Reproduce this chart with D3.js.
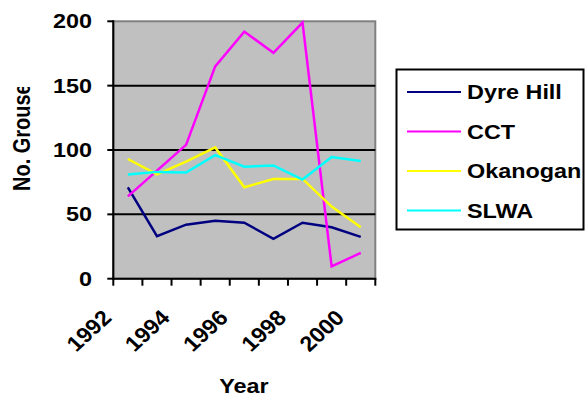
<!DOCTYPE html>
<html>
<head>
<meta charset="utf-8">
<script src="https://cdn.jsdelivr.net/npm/d3@7"></script>
<style>
  html, body { margin: 0; padding: 0; background: #fff; }
  text { font-family: "Liberation Sans", Arial, sans-serif; font-weight: bold; fill: #000; }
</style>
</head>
<body>
<svg id="chart" width="586" height="399"></svg>
<script>
const years = [1992, 1993, 1994, 1995, 1996, 1997, 1998, 1999, 2000];
const yearLabels = ["1992", "1994", "1996", "1998", "2000"];
const dyreHill = [71, 33, 42, 45, 43.5, 31, 43.5, 40, 32.5];
const cct = [64, 84, 104, 165, 192, 175.5, 199, 9.5, 20];
const okanogan = [93, 81, 91, 102, 71, 77.5, 77.5, 56, 40];
const slwa = [81, 83, 82.5, 96, 87, 88, 77, 94.5, 91.5];
const yTicks = [0, 50, 100, 150, 200];
const seriesNames = ["Dyre Hill", "CCT", "Okanogan", "SLWA"];
const seriesColors = ["#000080", "#FF00FF", "#FFFF00", "#00FFFF"];
const seriesData = [dyreHill, cct, okanogan, slwa];

const svg = d3.select("#chart");
const L = 113.3, R = 375.3, T = 21.3, B = 278.7;
const SX = 1.17;

const x = d3.scaleBand().domain(years).range([L, R]).padding(0);
const y = d3.scaleLinear().domain([0, 200]).range([B, T]);
const bw = x.bandwidth();

// plot background
svg.append("rect").attr("x", L).attr("y", T).attr("width", R - L).attr("height", B - T)
  .attr("fill", "#C0C0C0").attr("stroke", "#808080").attr("stroke-width", 2);

// gridlines
svg.append("g").selectAll("line").data(yTicks.filter(d => d > 0 && d < 200)).join("line")
  .attr("x1", L).attr("x2", R).attr("y1", d => y(d)).attr("y2", d => y(d))
  .attr("stroke", "#000").attr("stroke-width", 2);

// series lines
const line = d3.line().x((d, i) => x(years[i]) + bw / 2).y(d => y(d));
seriesData.forEach((s, k) => {
  svg.append("path").datum(s).attr("d", line)
    .attr("fill", "none").attr("stroke", seriesColors[k]).attr("stroke-width", 2.5)
    .attr("stroke-linejoin", "miter");
});

// y axis
const yAxis = svg.append("g");
yAxis.append("line").attr("x1", L).attr("x2", L).attr("y1", T - 1).attr("y2", B + 1)
  .attr("stroke", "#000").attr("stroke-width", 2);
yAxis.selectAll("line.tk").data(yTicks).join("line").attr("class", "tk")
  .attr("x1", L - 6).attr("x2", L).attr("y1", d => y(d)).attr("y2", d => y(d))
  .attr("stroke", "#000").attr("stroke-width", 2);
yAxis.selectAll("text").data(yTicks).join("text")
  .attr("transform", d => `translate(92,${y(d) + 7}) scale(${SX},1)`)
  .attr("text-anchor", "end").attr("font-size", 20).text(d => d);

// x axis
const xAxis = svg.append("g");
xAxis.append("line").attr("x1", L - 1).attr("x2", R + 1).attr("y1", B).attr("y2", B)
  .attr("stroke", "#000").attr("stroke-width", 2);
const edges = years.map(d => x(d)).concat([x(years[years.length - 1]) + bw]);
xAxis.selectAll("line.tk").data(edges).join("line").attr("class", "tk")
  .attr("x1", d => d).attr("x2", d => d).attr("y1", B).attr("y2", B + 7)
  .attr("stroke", "#000").attr("stroke-width", 2);
xAxis.selectAll("text").data(yearLabels).join("text")
  .attr("transform", d => `translate(${x(+d) + bw / 2 - 15},319) scale(1.08,1) rotate(-45)`)
  .attr("text-anchor", "end").attr("font-size", 21.5).text(d => d);

// axis titles
svg.append("text").attr("transform", `translate(244,393) scale(${SX},1)`)
  .attr("text-anchor", "middle").attr("font-size", 20).text("Year");

svg.append("clipPath").attr("id", "ttlclip").append("rect")
  .attr("x", 0).attr("y", 87).attr("width", 60).attr("height", 200);
svg.append("g").attr("clip-path", "url(#ttlclip)").append("text")
  .attr("transform", `translate(30,191) scale(${SX},1) rotate(-90)`)
  .attr("text-anchor", "start").attr("font-size", 20).text("No. Grouse");

// legend
const lg = svg.append("g");
lg.append("rect").attr("x", 396.5).attr("y", 69.5).attr("width", 187).attr("height", 160)
  .attr("fill", "#fff").attr("stroke", "#000").attr("stroke-width", 2);
const rowY = [92, 131.5, 171, 210.5];
seriesNames.forEach((n, i) => {
  lg.append("line").attr("x1", 407).attr("x2", 461).attr("y1", rowY[i]).attr("y2", rowY[i])
    .attr("stroke", seriesColors[i]).attr("stroke-width", 2);
  lg.append("text").attr("transform", `translate(467,${rowY[i] + 7}) scale(${SX},1)`)
    .attr("font-size", 20).text(n);
});
</script>
</body>
</html>
